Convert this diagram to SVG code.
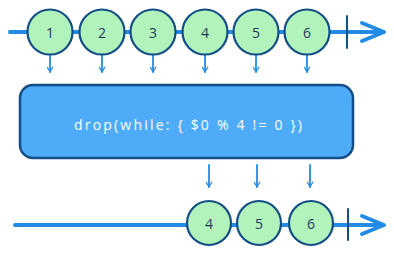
<svg xmlns="http://www.w3.org/2000/svg" width="394" height="257" viewBox="0 0 394 257">
<defs>
<style>
.line{stroke:#228be6;stroke-width:4;stroke-linecap:round;fill:none}
.head{stroke:#228be6;stroke-width:4;stroke-linecap:round;stroke-linejoin:round;fill:none}
.tick{stroke:#134e86;stroke-width:2;stroke-linecap:round}
.marble{fill:#b2f2bb;stroke:#134e86;stroke-width:2.2}
.mlabel{font-family:"Open Sans","Liberation Sans",sans-serif;font-size:14px;fill:#1e3a5f;text-anchor:middle;dominant-baseline:central}
.down{stroke:#228be6;stroke-width:1.8;stroke-linecap:round;fill:none}
.box{fill:#4dabf7;stroke:#134e86;stroke-width:2.5}
.op{font-family:"Open Sans","Liberation Sans",sans-serif;font-size:14px;fill:#ffffff;text-anchor:middle;dominant-baseline:central}
</style>
<marker id="ah" viewBox="0 0 10 10" refX="8" refY="5" markerWidth="7" markerHeight="7" orient="auto" markerUnits="userSpaceOnUse">
<path d="M1,1 L8,5 L1,9" fill="none" stroke="#228be6" stroke-width="1.6" stroke-linecap="round" stroke-linejoin="round"/>
</marker>
</defs>
<g id="connectors">
<line class="line" x1="10" y1="32" x2="383" y2="32"/>
<path class="head" d="M362,23 L384,32 L362,41"/>
<line class="tick" x1="347" y1="16" x2="347" y2="48"/>
<line class="line" x1="15" y1="225" x2="383" y2="225"/>
<path class="head" d="M362,216 L384,225 L362,234"/>
<line class="tick" x1="348" y1="209" x2="348" y2="240"/>
<line class="down" x1="50" y1="55" x2="50" y2="72" marker-end="url(#ah)"/>
<line class="down" x1="102" y1="55" x2="102" y2="72" marker-end="url(#ah)"/>
<line class="down" x1="153" y1="55" x2="153" y2="72" marker-end="url(#ah)"/>
<line class="down" x1="205" y1="55" x2="205" y2="72" marker-end="url(#ah)"/>
<line class="down" x1="256" y1="55" x2="256" y2="72" marker-end="url(#ah)"/>
<line class="down" x1="307" y1="55" x2="307" y2="72" marker-end="url(#ah)"/>
<line class="down" x1="209" y1="165" x2="209" y2="187" marker-end="url(#ah)"/>
<line class="down" x1="257" y1="165" x2="257" y2="187" marker-end="url(#ah)"/>
<line class="down" x1="310" y1="165" x2="310" y2="187" marker-end="url(#ah)"/>
</g>
<g id="m1"><circle class="marble" cx="50" cy="32" r="22.5"/><text class="mlabel" x="50" y="32">1</text></g>
<g id="m2"><circle class="marble" cx="102" cy="32" r="22.5"/><text class="mlabel" x="102" y="32">2</text></g>
<g id="m3"><circle class="marble" cx="153" cy="32" r="22.5"/><text class="mlabel" x="153" y="32">3</text></g>
<g id="m4"><circle class="marble" cx="205" cy="32" r="22.5"/><text class="mlabel" x="205" y="32">4</text></g>
<g id="m5"><circle class="marble" cx="256" cy="32" r="22.5"/><text class="mlabel" x="256" y="32">5</text></g>
<g id="m6"><circle class="marble" cx="307" cy="32" r="22.5"/><text class="mlabel" x="307" y="32">6</text></g>
<g id="operator"><rect class="box" x="20" y="85" width="333" height="73" rx="13"/><text class="op" x="188" y="124" textLength="228" lengthAdjust="spacing">drop(while: { $0 % 4 != 0 })</text></g>
<g id="o4"><circle class="marble" cx="209" cy="223" r="22"/><text class="mlabel" x="209" y="223">4</text></g>
<g id="o5"><circle class="marble" cx="259" cy="223" r="22"/><text class="mlabel" x="259" y="223">5</text></g>
<g id="o6"><circle class="marble" cx="311" cy="223" r="22"/><text class="mlabel" x="311" y="223">6</text></g>
</svg>
